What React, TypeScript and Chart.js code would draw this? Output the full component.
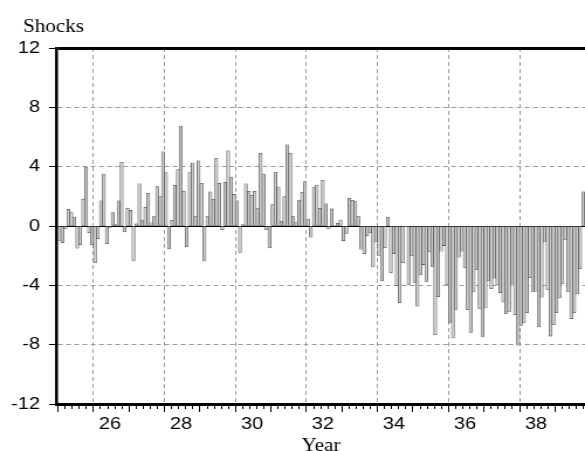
import React, { useEffect, useRef } from 'react';
import { Chart, registerables } from 'chart.js';

Chart.register(...registerables);

// ---- data (monthly shocks, grouped by year) ----
const shocks25 = [-0.97, -1.12, -0.2, 1.12, 0.94, 0.6, -1.5, -1.26, 1.8, 3.98, -0.45, -1.26];
const shocks26 = [-2.47, -0.85, 1.7, 3.5, -1.2, -0.1, 0.9, 0.1, 1.7, 4.3, -0.4, 1.2];
const shocks27 = [1.05, -2.35, 0.15, 2.85, 0.4, 1.26, 2.2, 0.22, 0.67, 2.65, 1.98, 5.0];
const shocks28 = [3.6, -1.55, 0.38, 2.74, 3.8, 6.74, 2.34, -1.4, 3.6, 4.25, 0.63, 4.4];
const shocks29 = [2.88, -2.36, 0.67, 2.3, 1.8, 4.56, 2.88, -0.25, 2.94, 5.06, 3.3, 2.13];
const shocks30 = [1.7, -1.78, 0.1, 2.85, 2.34, 2.07, 2.34, 1.17, 4.9, 3.5, -0.25, -1.48];
const shocks31 = [1.44, 3.64, 2.63, 0.29, 1.98, 5.48, 4.9, 0.63, 0.27, 1.75, 2.27, 3.0];
const shocks32 = [0.47, -0.76, 2.63, 2.76, 1.2, 3.08, 1.5, -0.2, 1.15, 0.05, 0.18, 0.4];
const shocks33 = [-1.0, -0.5, 1.87, 1.73, 1.64, 0.63, -1.57, -1.87, -0.65, -0.47, -2.76, -1.08];
const shocks34 = [-2.02, -3.7, -1.46, 0.6, -3.15, -1.87, -4.0, -5.17, -2.47, -0.05, -3.93, -2.02];
const shocks35 = [-3.8, -5.4, -3.3, -2.6, -3.73, -1.72, -2.72, -7.33, -4.76, -1.7, -1.32, -3.96];
const shocks36 = [-6.5, -7.55, -5.62, -2.1, -1.7, -2.83, -5.64, -7.17, -4.45, -2.92, -5.55, -7.45];
const shocks37 = [-5.53, -3.7, -4.22, -3.52, -3.98, -4.49, -5.12, -5.93, -5.8, -3.9, -5.98, -8.04];
const shocks38 = [-6.7, -6.5, -5.84, -3.48, -4.45, -4.4, -6.8, -4.8, -1.08, -4.27, -7.42, -6.65];
const shocks39 = [-5.84, -4.85, -3.9, -0.94, -4.45, -6.25, -5.84, -4.58, -2.88, 2.3];

const startYear = 25;
const monthsPerYear = 12;
const yearTicks = [25, 26, 27, 28, 29, 30, 31, 32, 33, 34, 35, 36, 37, 38, 39];
const labelYears = [26, 28, 30, 32, 34, 36, 38];
const yearLabels = ['26', '28', '30', '32', '34', '36', '38'];
const minorSteps = [0, 0.2, 0.4, 0.6, 0.8];
const yTicks = [-12, -8, -4, 0, 4, 8, 12];
const valueTitle = 'Shocks';
const timeTitle = 'Year';

// ---- layout (internal canvas is stretched horizontally to match the reference) ----
const CSS_W = 585;
const CSS_H = 451;
const W = 500;
const SX = CSS_W / W;
const TITLE_X = 23 / SX;
const AREA_L = 57 / SX;
const X_MIN = 24.972;
const X_MAX = 39.845;

const titlePlugin = {
  id: 'shocksTitle',
  afterDraw(chart: any) {
    const ctx = chart.ctx;
    ctx.save();
    ctx.font = '18px "Liberation Serif"';
    ctx.fillStyle = '#000';
    ctx.textAlign = 'left';
    ctx.textBaseline = 'alphabetic';
    ctx.fillText(valueTitle, TITLE_X, 32);
    ctx.restore();
  },
};

export default function App() {
  const ref = useRef<HTMLCanvasElement | null>(null);

  useEffect(() => {
    document.body.style.margin = '0';
    const canvas = ref.current;
    if (!canvas) return;
    const series = [
      ...shocks25, ...shocks26, ...shocks27, ...shocks28, ...shocks29,
      ...shocks30, ...shocks31, ...shocks32, ...shocks33, ...shocks34,
      ...shocks35, ...shocks36, ...shocks37, ...shocks38, ...shocks39,
    ];
    const points = series.map((v, i) => ({ x: startYear + (i + 0.5) / monthsPerYear, y: v }));
    const minorTicks: number[] = [];
    yearTicks.forEach((y) => minorSteps.forEach((s) => minorTicks.push(y + s)));

    const tickFont = { family: 'Liberation Sans', size: 17 };
    const serif = { family: 'Liberation Serif', size: 18, weight: 'normal' as const };

    const chart = new Chart(canvas, {
      type: 'bar',
      plugins: [titlePlugin],
      data: {
        datasets: [
          {
            data: points as any,
            xAxisID: 'x',
            yAxisID: 'y',
            backgroundColor: '#cacaca',
            borderColor: '#3a3a3a',
            borderWidth: 0.55,
            borderSkipped: false,
            barPercentage: 1,
            categoryPercentage: 1,
          },
        ],
      },
      options: {
        responsive: false,
        animation: false,
        devicePixelRatio: 1,
        events: [],
        layout: { padding: { left: 0, right: 0, top: 48, bottom: 0 } },
        plugins: {
          legend: { display: false },
          tooltip: { enabled: false },
          title: { display: false },
        },
        scales: {
          x: {
            type: 'linear',
            axis: 'x',
            position: 'bottom',
            min: X_MIN,
            max: X_MAX,
            offset: false,
            afterBuildTicks: (s: any) => {
              s.ticks = yearTicks.map((v) => ({ value: v }));
            },
            afterFit: (s: any) => {
              s.height = CSS_H - 404;
            },
            ticks: {
              autoSkip: false,
              maxRotation: 0,
              minRotation: 0,
              color: '#000',
              font: tickFont,
              padding: 2,
              labelOffset: 16.5 / SX,
              callback: (v: any) => {
                const i = labelYears.indexOf(Number(v));
                return i >= 0 ? yearLabels[i] : '';
              },
            },
            grid: {
              offset: false,
              color: (c: any) => (c.tick && labelYears.includes(c.tick.value) ? '#9a9a9a' : 'rgba(0,0,0,0)'),
              lineWidth: 1,
              tickColor: '#000',
              tickWidth: 1,
              tickLength: 8,
            },
            border: { display: true, color: '#000', width: 3, dash: [4, 3] },
            title: {
              display: true,
              text: timeTitle,
              color: '#000',
              font: { ...serif, lineHeight: 1 },
              padding: { top: 0, bottom: -4.5 },
            },
          } as any,
          x2: {
            type: 'linear',
            axis: 'x',
            position: { y: -12 },
            min: X_MIN,
            max: X_MAX,
            offset: false,
            afterBuildTicks: (s: any) => {
              s.ticks = minorTicks.map((v) => ({ value: v }));
            },
            ticks: { display: false },
            grid: {
              offset: false,
              drawOnChartArea: false,
              color: '#000',
              tickColor: '#000',
              tickWidth: 1,
              tickLength: 5,
            },
            border: { display: false },
          } as any,
          y: {
            type: 'linear',
            position: 'left',
            min: -12,
            max: 12,
            afterBuildTicks: (s: any) => {
              s.ticks = yTicks.map((v) => ({ value: v }));
            },
            afterFit: (s: any) => {
              s.width = AREA_L;
            },
            ticks: {
              autoSkip: false,
              color: '#000',
              font: tickFont,
              padding: 9 / SX,
              callback: (v: any) => String(v),
            },
            grid: {
              color: (c: any) => {
                const v = c.tick ? c.tick.value : 1;
                return v === 0 || Math.abs(v) === 12 ? '#000' : '#9a9a9a';
              },
              lineWidth: (c: any) => (c.tick && Math.abs(c.tick.value) === 12 ? 3 : 1),
              tickColor: '#000',
              tickWidth: 1,
              tickLength: 8 / SX,
            },
            border: {
              display: true,
              color: '#000',
              width: 3 / SX,
              dash: (c: any) => {
                const v = c.tick ? c.tick.value : 1;
                return v === 0 || Math.abs(v) === 12 ? [] : [4, 3];
              },
            },
          } as any,
        },
      },
    });
    return () => chart.destroy();
  }, []);

  return (
    <div style={{ position: 'fixed', left: 0, top: 0, width: CSS_W, height: CSS_H, overflow: 'hidden', background: '#fff' }}>
      <canvas
        ref={ref}
        width={W}
        height={CSS_H}
        style={{ display: 'block', width: CSS_W + 'px', height: CSS_H + 'px' }}
      />
    </div>
  );
}
